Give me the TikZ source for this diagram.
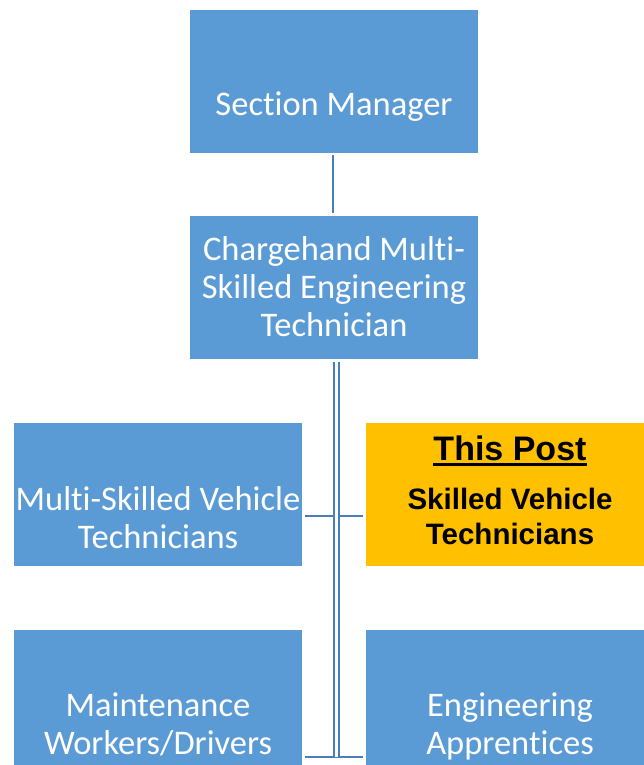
\documentclass[tikz,border=0pt]{standalone}
\usepackage{fontspec}
\setmainfont{Carlito}[Ligatures=NoCommon]
\newfontfamily\arialfont{Liberation Sans}
\definecolor{boxblue}{HTML}{5B9BD5}
\definecolor{postorange}{HTML}{FFC000}
\definecolor{connblue}{HTML}{4A7EBB}
\newcommand\postul[1]{\leavevmode\vtop{\hbox{#1}\kern2.6pt\hrule height 3.2pt}}
\begin{document}
\begin{tikzpicture}[x=1pt,y=-1pt,
  box/.style={rectangle, fill=boxblue, minimum width=288pt, minimum height=143pt, inner sep=0pt},
  postbox/.style={box, fill=postorange},
  txt/.style={text=white, font=\fontsize{34.5}{38}\selectfont, align=center, inner sep=0pt, anchor=base},
  posttxt/.style={text=black, font=\arialfont\bfseries\fontsize{29.5}{35}\selectfont, align=center, inner sep=0pt, anchor=base},
  conn/.style={draw=connblue, line width=2.4pt},
  dbl/.style={draw=connblue, line width=2pt, double=white, double distance=3pt}
]
\useasboundingbox (0,0) rectangle (643,765);
% boxes
\node[box] (sm) at (334,81.5) {};
\node[box] (ch) at (334,287.5) {};
\node[box] (ms) at (158,494.5) {};
\node[postbox] (tp) at (510,494.5) {};
\node[box] (mw) at (158,701.5) {};
\node[box] (ea) at (510,701.5) {};
% texts (base anchor = baseline of the last line)
\node[txt] (smt) at (334,116) {Section Manager};
\node[txt] (cht) at (334,336) {Chargehand Multi-\\Skilled Engineering\\Technician};
\node[txt] (mst) at (158,548) {Multi-Skilled Vehicle\\Technicians};
\node[posttxt, font=\arialfont\bfseries\fontsize{34}{38}\selectfont] (tpt) at (510,460) {\postul{This Post}};
\node[posttxt] (tps) at (510,544) {Skilled Vehicle\\Technicians};
\node[txt] (mwt) at (158,754) {Maintenance\\Workers/Drivers};
\node[txt] (eat) at (510,754) {Engineering\\Apprentices};
% connectors
\coordinate (j1) at (336.5,516);
\coordinate (j2) at (336.5,757);
\draw[conn, shorten <=2pt, shorten >=3pt] (sm.south -| 333,0) -- (ch.north -| 333,0);
\draw[conn, shorten <=3pt, shorten >=3pt] (ms.east |- j1) -- (tp.west |- j1);
\draw[conn, shorten <=3pt, shorten >=3pt] (mw.east |- j2) -- (ea.west |- j2);
\draw[dbl, shorten <=3pt] (ch.south -| j1) -- (j2);
\end{tikzpicture}
\end{document}
